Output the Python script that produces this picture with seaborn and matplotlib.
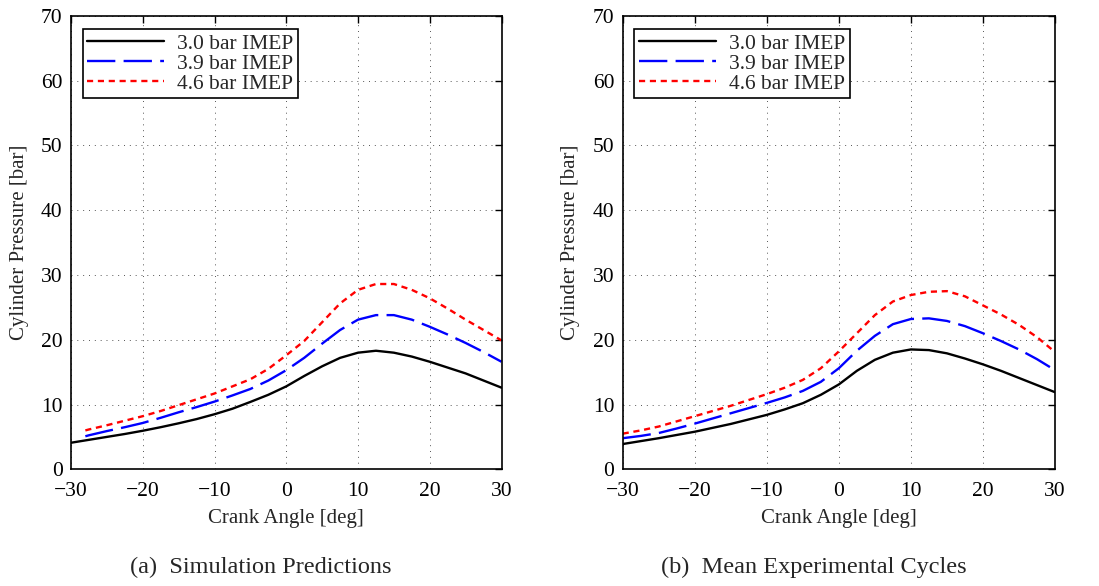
import numpy as np
import pandas as pd
import matplotlib
matplotlib.use("Agg")
import matplotlib.pyplot as plt
import seaborn as sns

sns.set_theme(style="white")
plt.rcParams['font.family'] = ['Liberation Serif', 'DejaVu Serif']
plt.rcParams['axes.unicode_minus'] = True

labels = ["3.0 bar IMEP", "3.9 bar IMEP", "4.6 bar IMEP"]
colors = ["black", "blue", "red"]

# Panel (a): Simulation Predictions
sim_x_black = [-30, -27.5, -25, -22.5, -20, -17.5, -15, -12.5, -10, -7.5, -5, -2.5, 0,
               2.5, 5, 7.5, 10, 12.5, 15, 17.5, 20, 22.5, 25, 27.5, 30]
sim_black = [4.1, 4.55, 5.0, 5.45, 5.95, 6.5, 7.1, 7.75, 8.5, 9.35, 10.4, 11.5, 12.8,
             14.4, 15.9, 17.2, 18.0, 18.3, 18.0, 17.4, 16.6, 15.7, 14.8, 13.7, 12.6]
sim_x_other = [-28, -27.5, -25, -22.5, -20, -17.5, -15, -12.5, -10, -7.5, -5, -2.5, 0,
               2.5, 5, 7.5, 10, 12.5, 15, 17.5, 20, 22.5, 25, 27.5, 30]
sim_blue = [5.1, 5.25, 5.9, 6.5, 7.15, 7.95, 8.8, 9.6, 10.45, 11.4, 12.4, 13.7, 15.3,
            17.2, 19.4, 21.5, 23.1, 23.8, 23.8, 23.1, 22.0, 20.8, 19.5, 18.1, 16.6]
sim_red = [6.0, 6.15, 6.8, 7.5, 8.2, 9.0, 9.9, 10.8, 11.7, 12.8, 13.9, 15.5, 17.6,
           19.8, 22.7, 25.6, 27.7, 28.6, 28.6, 27.7, 26.4, 24.8, 23.1, 21.5, 19.9]

# Panel (b): Mean Experimental Cycles
exp_x = [-30, -27.5, -25, -22.5, -20, -17.5, -15, -12.5, -10, -7.5, -5, -2.5, 0,
         2.5, 5, 7.5, 10, 12.5, 15, 17.5, 20, 22.5, 25, 27.5, 30]
exp_black = [3.9, 4.35, 4.8, 5.3, 5.8, 6.4, 7.0, 7.7, 8.4, 9.25, 10.2, 11.5, 13.1,
             15.2, 16.9, 18.0, 18.5, 18.4, 17.9, 17.1, 16.2, 15.2, 14.1, 13.0, 11.9]
exp_blue = [4.8, 5.15, 5.6, 6.3, 7.05, 7.85, 8.65, 9.45, 10.25, 11.1, 12.1, 13.5, 15.6,
            18.3, 20.6, 22.4, 23.2, 23.3, 22.9, 22.1, 21.0, 19.8, 18.5, 17.0, 15.3]
exp_red = [5.5, 6.0, 6.6, 7.4, 8.2, 9.0, 9.8, 10.7, 11.6, 12.6, 13.8, 15.6, 18.2,
           21.0, 23.8, 25.9, 26.9, 27.4, 27.5, 26.7, 25.3, 23.9, 22.3, 20.4, 18.1]

x_ticks = [-30, -20, -10, 0, 10, 20, 30]
y_ticks = [0, 10, 20, 30, 40, 50, 60, 70]
captions = ["(a)  Simulation Predictions", "(b)  Mean Experimental Cycles"]

styles = ['-', (0, (12, 3.5)), (0, (2.6, 2.0))]

fig = plt.figure(figsize=(10.99, 5.86), dpi=100)
ax1 = fig.add_axes([71/1099, 1-469.3/586, 430.5/1099, 453.5/586])
ax2 = fig.add_axes([622.7/1099, 1-469.3/586, 432.3/1099, 453.5/586])

panels = [
    (ax1, [(sim_x_black, sim_black), (sim_x_other, sim_blue), (sim_x_other, sim_red)]),
    (ax2, [(exp_x, exp_black), (exp_x, exp_blue), (exp_x, exp_red)]),
]

for ax, series in panels:
    for (xs, ys), lab, col, ls in zip(series, labels, colors, styles):
        df = pd.DataFrame({"Crank Angle": xs, "Pressure": ys})
        sns.lineplot(data=df, x="Crank Angle", y="Pressure", ax=ax, color=col,
                     linewidth=1.7, linestyle=ls, label=lab, legend=False)
    ax.set_xlim(-30, 30)
    ax.set_ylim(0, 70)
    ax.set_xticks(x_ticks)
    ax.set_yticks(y_ticks)
    ax.grid(True, linestyle=(0, (1, 5)), color='#555555', linewidth=0.7)
    for s in ax.spines.values():
        s.set_color('black')
        s.set_linewidth(1.2)
    ax.tick_params(direction='in', top=True, right=True, length=5, width=1,
                   labelsize=15.5, colors='black')
    ax.tick_params(axis='x', pad=9)
    ax.tick_params(axis='y', pad=6)
    ax.set_xlabel("Crank Angle [deg]", fontsize=15, labelpad=6)
    ax.set_ylabel("Cylinder Pressure [bar]", fontsize=15, labelpad=9)
    lines = ax.get_lines()[:3]
    leg = ax.legend(lines, labels, loc='upper left', bbox_to_anchor=(0.027, 0.97),
                    borderaxespad=0, fontsize=15.5, handlelength=3.6,
                    labelspacing=0.0, borderpad=0.2, handletextpad=0.6,
                    fancybox=False, frameon=True, framealpha=1)
    leg.get_frame().set_edgecolor('black')
    leg.get_frame().set_linewidth(1.2)

fig.text(261/1099, 1-567/586, captions[0], ha='center', va='center', fontsize=17.5)
fig.text(814/1099, 1-567/586, captions[1], ha='center', va='center', fontsize=17.5)

fig.savefig("out.png", dpi=100, facecolor='white')
